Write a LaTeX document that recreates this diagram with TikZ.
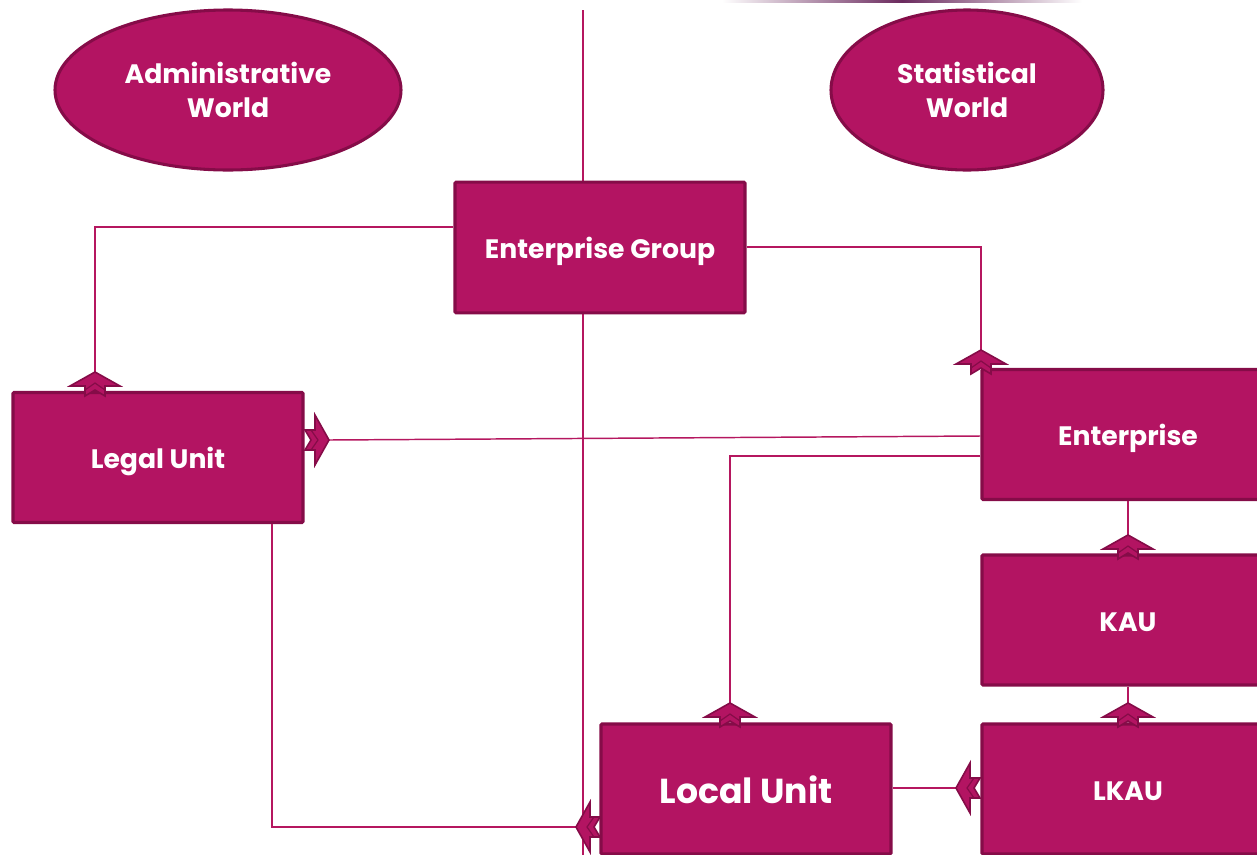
\documentclass[tikz,border=0pt]{standalone}
\usepackage{fontspec}
\setmainfont{Poppins}
\usetikzlibrary{shapes.geometric,calc}
\definecolor{boxfill}{HTML}{B31462}
\definecolor{boxdraw}{HTML}{850C48}
\definecolor{linec}{HTML}{B5175F}
\definecolor{topline}{HTML}{6B2A5E}
\tikzset{
  unitbox/.style={rectangle, fill=boxfill, draw=boxdraw, line width=2.3pt, minimum width=217.5pt, minimum height=97.5pt, text=white, font=\fontsize{20}{25}\selectfont\bfseries, inner sep=0pt, rounded corners=0.8pt, text height=17pt, text depth=0pt},
  worldell/.style={ellipse, fill=boxfill, draw=boxdraw, line width=2.3pt, text=white, font=\fontsize{20}{25}\selectfont\bfseries, align=center, inner sep=0pt},
  conn/.style={draw=linec, line width=1.1pt},
  barrow/.pic={\filldraw[fill=boxfill, draw=boxdraw, line width=1.2pt, line join=miter]
     (0,0) -- (-25,14) -- (-10,14) -- (-10,24) -- (0,18) -- (10,24) -- (10,14) -- (25,14) -- cycle;
     \draw[boxdraw, line width=0.9pt] (-10,18) -- (0,11) -- (10,18);}
}
\begin{document}
\begin{tikzpicture}[x=0.75pt,y=-0.75pt]
\useasboundingbox (0,0) rectangle (1257,854);
% top gradient line
\shade[left color=white, right color=white, middle color=topline] (722,-1) rectangle (1082,2);
% vertical divider
\coordinate (vtop) at (583,10);
\coordinate (vbot) at (583,856);
\draw[conn] (vtop) -- (vbot);
% worlds
\node[worldell, minimum width=259.5pt, minimum height=120pt] (adm) at (228,90) {Administrative\\World};
\node[worldell, minimum width=204pt, minimum height=120pt] (stat) at (967,90) {Statistical\\World};
% boxes
\node[unitbox, minimum height=98pt] (eg) at (600,247.5) {Enterprise Group};
\node[unitbox] (lu) at (158,457.5) {Legal Unit};
\node[unitbox, minimum width=219pt] (ent) at (1128,434.5) {Enterprise};
\node[unitbox, minimum width=219pt] (kau) at (1128,620) {KAU};
\node[unitbox, minimum width=219pt] (lkau) at (1128,789) {LKAU};
\node[unitbox, font=\fontsize{26}{30}\selectfont\bfseries, text height=22pt] (loc) at (746,789) {Local Unit};
% arrow tips
\coordinate (aLUtop) at (95,372);
\coordinate (aENTtop) at (981,350);
\coordinate (aLUright) at (329,440);
\coordinate (aLOCtop) at (730,703);
\coordinate (aKAUtop) at (1128,535);
\coordinate (aLKAUtop) at (1128,703);
\coordinate (aLKAUleft) at (956,788);
\coordinate (aLOCleft) at (576,827);
% connectors
\draw[conn] (eg.west |- 0,227) -| (aLUtop);
\draw[conn] (eg.east |- 0,247) -| (aENTtop);
\draw[conn] (ent.west |- 0,436) -- (aLUright);
\draw[conn] (ent.west |- 0,456) -| (aLOCtop);
\draw[conn] (ent.south) -- (aKAUtop);
\draw[conn] (kau.south) -- (aLKAUtop);
\draw[conn] (loc.east |- aLKAUleft) -- (aLKAUleft);
\draw[conn] (lu.south -| 272,0) |- (aLOCleft);
% arrowheads
\pic at (aLUtop) {barrow};
\pic at (aENTtop) {barrow};
\pic[rotate=-90] at (aLUright) {barrow};
\pic at (aLOCtop) {barrow};
\pic at (aKAUtop) {barrow};
\pic at (aLKAUtop) {barrow};
\pic[rotate=90] at (aLKAUleft) {barrow};
\pic[rotate=90] at (aLOCleft) {barrow};
\end{tikzpicture}
\end{document}
